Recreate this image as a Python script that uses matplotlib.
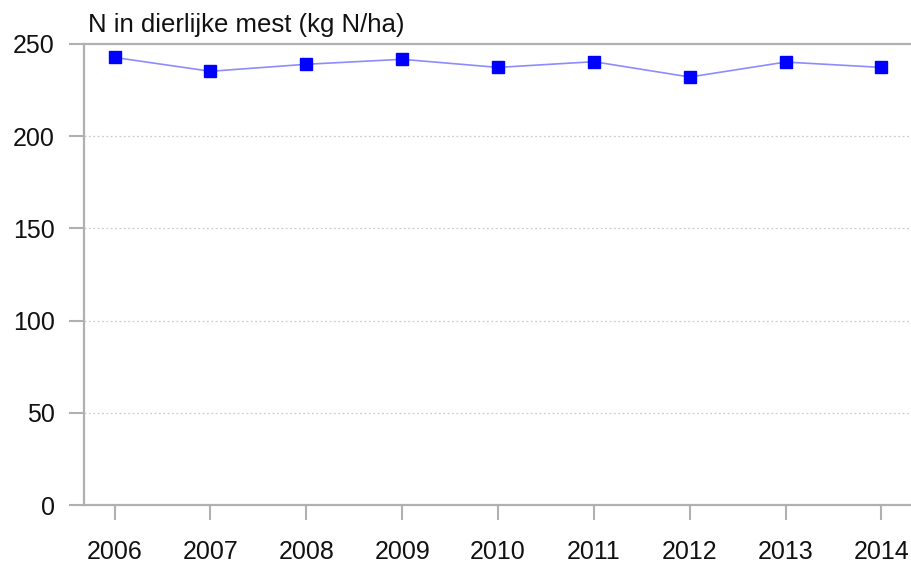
import matplotlib
matplotlib.use("Agg")
import matplotlib.pyplot as plt

plt.rcParams['font.family'] = ['Liberation Sans', 'DejaVu Sans']

# data
years = [2006, 2007, 2008, 2009, 2010, 2011, 2012, 2013, 2014]
n_mest = [242.7, 235.2, 239.0, 241.7, 237.3, 240.4, 232.1, 240.2, 237.3]
y_ticks = [0, 50, 100, 150, 200, 250]

axis_grey = "#b0b0b0"

fig = plt.figure(figsize=(9.12, 5.64), dpi=100)
ax = fig.add_axes([0.092, 0.1046, 0.906, 0.8174])

ax.plot(years, n_mest, color="#8c8cff", linewidth=1.2, zorder=3)
ax.plot(years, n_mest, linestyle="none", marker="s", markersize=8,
        color="#0000ff", zorder=4)

ax.set_xlim(2005.68, 2014.3)
ax.set_ylim(0, 250)
ax.set_xticks(years)
ax.set_yticks(y_ticks)

for y in y_ticks[1:-1]:
    ax.axhline(y, color="#cccccc", linestyle=(0, (1.5, 2)), linewidth=0.9, zorder=1)

for side in ["left", "bottom", "top"]:
    ax.spines[side].set_color(axis_grey)
    ax.spines[side].set_linewidth(1.6)
ax.spines["right"].set_visible(False)

ax.tick_params(axis="both", colors=axis_grey, width=1.5, length=11,
               labelsize=18, labelcolor="#111111")
ax.tick_params(axis="x", pad=14)
ax.tick_params(axis="y", pad=10)

fig.text(0.0965, 0.955, "N in dierlijke mest (kg N/ha)", fontsize=18.5,
         ha="left", va="center", color="#111111")

fig.savefig("out.png", dpi=100)
